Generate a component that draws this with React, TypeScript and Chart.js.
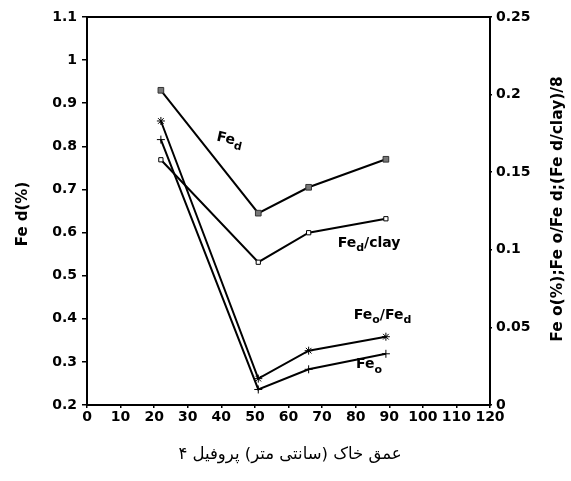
import React, { useEffect, useRef } from "react";
import { Chart, registerables } from "chart.js";

Chart.register(...registerables);

// ---- data ----
const depths = [22, 51, 66, 89];
const feD = [0.93, 0.645, 0.705, 0.77]; // left axis
const feDClay8 = [0.158, 0.092, 0.111, 0.12]; // right axis
const feOFeD = [0.183, 0.017, 0.035, 0.044]; // right axis
const feO = [0.171, 0.01, 0.023, 0.033]; // right axis

const xTicks = [0, 10, 20, 30, 40, 50, 60, 70, 80, 90, 100, 110, 120];
const leftTicks = [0.2, 0.3, 0.4, 0.5, 0.6, 0.7, 0.8, 0.9, 1, 1.1];
const rightTicks = [0, 0.05, 0.1, 0.15, 0.2, 0.25];

const xTitle = "عمق خاک (سانتی متر) پروفیل ۴";
const leftTitle = "Fe d(%)";
const rightTitle = "Fe o(%);Fe o/Fe d;(Fe d/clay)/8";

type Seg = { t: string; sub?: boolean };
const seriesLabels: { axis: string; x: number; y: number; rot: number; segs: Seg[] }[] = [
  { axis: "y", x: 42.5, y: 0.815, rot: 0.22, segs: [{ t: "Fe" }, { t: "d", sub: true }] },
  { axis: "y1", x: 84, y: 0.104, rot: 0, segs: [{ t: "Fe" }, { t: "d", sub: true }, { t: "/clay" }] },
  { axis: "y1", x: 88, y: 0.058, rot: 0, segs: [{ t: "Fe" }, { t: "o", sub: true }, { t: "/Fe" }, { t: "d", sub: true }] },
  { axis: "y1", x: 84, y: 0.026, rot: 0, segs: [{ t: "Fe" }, { t: "o", sub: true }] },
];

const FONT = "'DejaVu Sans', 'Liberation Sans', Arial, sans-serif";

const fmt = (v: number) => String(Math.round(v * 1000) / 1000);

const decor = {
  id: "decor",
  afterDraw(chart: any) {
    const ctx = chart.ctx as CanvasRenderingContext2D;
    const a = chart.chartArea;
    ctx.save();
    // frame
    ctx.strokeStyle = "#000";
    ctx.lineWidth = 2;
    ctx.strokeRect(a.left, a.top, a.right - a.left, a.bottom - a.top);

    // axis titles
    ctx.fillStyle = "#000";
    const cy = (a.top + a.bottom) / 2;
    ctx.textAlign = "center";
    ctx.textBaseline = "middle";
    ctx.save();
    ctx.font = `bold 15px ${FONT}`;
    ctx.translate(23, cy + 3);
    ctx.rotate(-Math.PI / 2);
    ctx.fillText(leftTitle, 0, 0);
    ctx.restore();
    ctx.save();
    ctx.font = `bold 15.5px ${FONT}`;
    ctx.translate(558, cy - 2);
    ctx.rotate(-Math.PI / 2);
    ctx.fillText(rightTitle, 0, 0);
    ctx.restore();

    // x title (Persian)
    ctx.save();
    ctx.font = `16.5px 'DejaVu Sans', sans-serif`;
    (ctx as any).direction = "rtl";
    ctx.textAlign = "center";
    ctx.fillText(xTitle, 290, 455);
    ctx.restore();

    // series labels with subscripts
    for (const lab of seriesLabels) {
      const px = chart.scales.x.getPixelForValue(lab.x);
      const py = chart.scales[lab.axis].getPixelForValue(lab.y);
      const mainF = `bold 14px ${FONT}`;
      const subF = `bold 11px ${FONT}`;
      let w = 0;
      for (const s of lab.segs) {
        ctx.font = s.sub ? subF : mainF;
        w += ctx.measureText(s.t).width;
      }
      ctx.save();
      ctx.translate(px, py);
      ctx.rotate(lab.rot);
      ctx.textAlign = "left";
      ctx.textBaseline = "middle";
      let cx = -w / 2;
      for (const s of lab.segs) {
        ctx.font = s.sub ? subF : mainF;
        ctx.fillText(s.t, cx, s.sub ? 5 : 0);
        cx += ctx.measureText(s.t).width;
      }
      ctx.restore();
    }
    ctx.restore();
  },
};

const pts = (ys: number[]) => depths.map((d, i) => ({ x: d, y: ys[i] }));

export default function App() {
  const ref = useRef<HTMLCanvasElement | null>(null);
  useEffect(() => {
    if (!ref.current) return;
    const tickFont = { family: FONT, size: 14, weight: "bold" as const };
    const border = { display: true, color: "#000", width: 2 };
    const grid = (len: number) => ({
      display: true,
      drawOnChartArea: false,
      drawTicks: true,
      tickLength: len,
      color: "#000",
      lineWidth: 1.5,
    });
    const chart = new Chart(ref.current, {
      type: "line",
      data: {
        datasets: [
          {
            label: "Fe d",
            data: pts(feD),
            yAxisID: "y",
            borderColor: "#000",
            borderWidth: 2,
            pointStyle: "rect",
            pointRadius: 4,
            pointBackgroundColor: "#777",
            pointBorderColor: "#333",
            pointBorderWidth: 1,
          },
          {
            label: "(Fe d/clay)/8",
            data: pts(feDClay8),
            yAxisID: "y1",
            borderColor: "#000",
            borderWidth: 2,
            pointStyle: "rect",
            pointRadius: 3,
            pointBackgroundColor: "#fff",
            pointBorderColor: "#000",
            pointBorderWidth: 1,
          },
          {
            label: "Fe o/Fe d",
            data: pts(feOFeD),
            yAxisID: "y1",
            borderColor: "#000",
            borderWidth: 2,
            pointStyle: "star",
            pointRadius: 4,
            pointBorderColor: "#000",
            pointBorderWidth: 1,
          },
          {
            label: "Fe o",
            data: pts(feO),
            yAxisID: "y1",
            borderColor: "#000",
            borderWidth: 2,
            pointStyle: "cross",
            pointRadius: 4,
            pointBorderColor: "#000",
            pointBorderWidth: 1,
          },
        ],
      },
      options: {
        responsive: false,
        animation: false,
        events: [],
        layout: { padding: { top: 17, left: 0, right: 0, bottom: 0 } },
        plugins: { legend: { display: false }, tooltip: { enabled: false } },
        scales: {
          x: {
            type: "linear",
            position: "bottom",
            min: 0,
            max: 120,
            afterBuildTicks: (s: any) => {
              s.ticks = xTicks.map((v) => ({ value: v }));
            },
            afterFit: (s: any) => {
              s.height = 76;
            },
            ticks: { font: tickFont, color: "#000", padding: 1, maxRotation: 0, autoSkip: false, callback: (v: any) => fmt(v) },
            grid: grid(3),
            border,
          },
          y: {
            type: "linear",
            position: "left",
            min: 0.2,
            max: 1.1,
            afterBuildTicks: (s: any) => {
              s.ticks = leftTicks.map((v) => ({ value: v }));
            },
            afterFit: (s: any) => {
              s.width = 87;
            },
            ticks: { font: tickFont, color: "#000", padding: 5, autoSkip: false, callback: (v: any) => fmt(v) },
            grid: grid(5),
            border,
          },
          y1: {
            type: "linear",
            position: "right",
            min: 0,
            max: 0.25,
            afterBuildTicks: (s: any) => {
              s.ticks = rightTicks.map((v) => ({ value: v }));
            },
            afterFit: (s: any) => {
              s.width = 81;
            },
            ticks: { font: tickFont, color: "#000", padding: 4, autoSkip: false, callback: (v: any) => fmt(v) },
            grid: grid(2),
            border,
          },
        },
      },
      plugins: [decor],
    });
    return () => chart.destroy();
  }, []);
  return (
    <div style={{ position: "fixed", left: 0, top: 0, width: 571, height: 481, background: "#fff" }}>
      <canvas ref={ref} width={571} height={481} />
    </div>
  );
}
